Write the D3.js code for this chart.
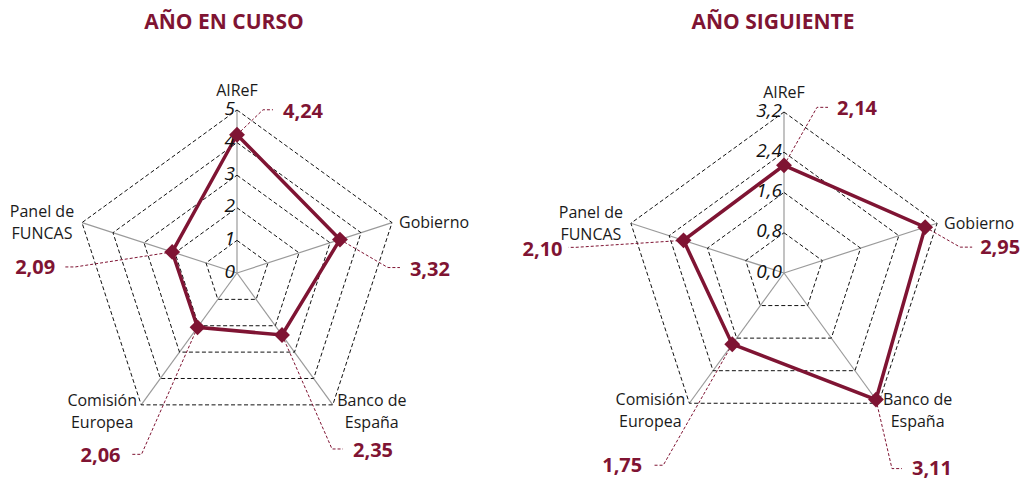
<!DOCTYPE html>
<html>
<head>
<meta charset="utf-8">
<script src="https://cdnjs.cloudflare.com/ajax/libs/d3/7.8.5/d3.min.js"></script>
<style>
    body { margin: 0; background: #fff; }
    svg { display: block; }
</style>
</head>
<body>
<div id="chart"></div>
<script>
/*global d3: false */
(function(window, d3){
    "use strict";
    //====================================
    //data
    var categories = ["AIReF", "Gobierno", "Banco de España", "Comisión Europea", "Panel de FUNCAS"];
    var categoryLines = [["AIReF"], ["Gobierno"], ["Banco de", "España"], ["Comisión", "Europea"], ["Panel de", "FUNCAS"]];
    var cursoValues = [4.24, 3.32, 2.35, 2.06, 2.09];
    var siguienteValues = [2.14, 2.95, 3.11, 1.75, 2.10];
    var cursoTicks = [0, 1, 2, 3, 4, 5];
    var siguienteTicks = [0, 0.8, 1.6, 2.4, 3.2];
    var cursoTickLabels = ["0", "1", "2", "3", "4", "5"];
    var siguienteTickLabels = ["0,0", "0,8", "1,6", "2,4", "3,2"];
    var titles = ["AÑO EN CURSO", "AÑO SIGUIENTE"];

    //====================================
    //layout
    var width = 1026, height = 481;
    var maroon = "#7f1433";
    var font = "'Open Sans', 'Noto Sans', sans-serif";

    //leader line offsets relative to each marker: elbow, end, label anchor
    var cursoLeaders = [
        {elbow: [26, -25], end: [36, -25], text: [46, -24], anchor: "start"},
        {elbow: [48, 28], end: [60, 28], text: [70, 29], anchor: "start"},
        {elbow: [50, 114], end: [61, 114], text: [71, 115], anchor: "start"},
        {elbow: [-56, 127], end: [-67, 127], text: [-77, 128], anchor: "end"},
        {elbow: [-97, 15], end: [-107, 15], text: [-117, 15], anchor: "end"}
    ];
    var siguienteLeaders = [
        {elbow: [33, -58], end: [44, -58], text: [53, -57], anchor: "start"},
        {elbow: [35, 20], end: [47, 20], text: [55, 20], anchor: "start"},
        {elbow: [16, 69], end: [26, 69], text: [36, 68], anchor: "start"},
        {elbow: [-69, 121], end: [-79, 121], text: [-90, 121], anchor: "end"},
        {elbow: [-108, 7], end: [-115, 7], text: [-121, 9], anchor: "end"}
    ];

    //category label offsets from each outer vertex
    var labelPos = [
        {dx: 0, dy: -20, anchor: "middle"},
        {dx: 7, dy: 0, anchor: "start"},
        {dx: 39, dy: -4, anchor: "middle"},
        {dx: -39, dy: -4, anchor: "middle"},
        {dx: -40, dy: -11, anchor: "middle"}
    ];

    var svg = d3.select("#chart").append("svg")
        .attr("width", width)
        .attr("height", height);

    //comma decimal format
    var fmt = function(v){ return d3.format(".2f")(v).replace(".", ","); };

    //====================================
    //one radar panel
    function drawRadar(cfg){
        var g = svg.append("g")
            .attr("transform", "translate(" + cfg.cx + "," + cfg.cy + ")");
        var n = categories.length;
        var r = d3.scaleLinear()
            .domain([0, cfg.max])
            .range([0, cfg.radius]);
        var angle = d3.scaleLinear()
            .domain([0, n])
            .range([0, 2 * Math.PI]);
        var point = function(i, v){
            var a = angle(i);
            return [r(v) * Math.sin(a), -r(v) * Math.cos(a)];
        };

        //title
        svg.append("text")
            .attr("x", cfg.titleX)
            .attr("y", 22)
            .attr("dy", "0.35em")
            .attr("text-anchor", "middle")
            .style("font-family", font)
            .style("font-weight", "bold")
            .style("font-size", "21px")
            .style("fill", maroon)
            .text(cfg.title);

        //spokes
        g.selectAll(".spoke")
            .data(categories)
            .enter().append("line")
            .attr("class", "spoke")
            .attr("x1", 0).attr("y1", 0)
            .attr("x2", function(d, i){ return point(i, cfg.max)[0]; })
            .attr("y2", function(d, i){ return point(i, cfg.max)[1]; })
            .style("stroke", "#9a9a9a")
            .style("stroke-width", 1.2);

        //grid pentagons
        var ring = d3.lineRadial()
            .angle(function(d, i){ return angle(i); })
            .radius(function(d){ return r(d); })
            .curve(d3.curveLinearClosed);
        g.selectAll(".grid")
            .data(cfg.ticks.filter(function(t){ return t > 0; }))
            .enter().append("path")
            .attr("class", "grid")
            .attr("d", function(t){ return ring(categories.map(function(){ return t; })); })
            .style("fill", "none")
            .style("stroke", "#111")
            .style("stroke-width", 1)
            .style("stroke-dasharray", "4,2.5");

        //series polygon
        g.append("path")
            .attr("d", ring(cfg.values))
            .style("fill", "none")
            .style("stroke", maroon)
            .style("stroke-width", 3.5)
            .style("stroke-linejoin", "miter");

        //tick labels on the top axis
        g.selectAll(".tick")
            .data(cfg.ticks)
            .enter().append("text")
            .attr("class", "tick")
            .attr("x", -2)
            .attr("y", function(t){ return -r(t) - 2; })
            .attr("dy", "0.35em")
            .attr("text-anchor", "end")
            .style("font-family", font)
            .style("font-style", "italic")
            .style("font-size", "19px")
            .style("fill", "#111")
            .text(function(t, i){ return cfg.tickLabels[i]; });

        //category labels
        categoryLines.forEach(function(lines, i){
            var p = point(i, cfg.max);
            var lp = labelPos[i];
            var t = g.append("text")
                .attr("text-anchor", lp.anchor)
                .style("font-family", font)
                .style("font-size", "16px")
                .style("fill", "#1a1a1a");
            lines.forEach(function(line, k){
                t.append("tspan")
                    .attr("x", p[0] + lp.dx)
                    .attr("y", p[1] + lp.dy + k * 22)
                    .attr("dy", "0.35em")
                    .text(line);
            });
        });

        //leader lines and value labels
        cfg.values.forEach(function(v, i){
            var p = point(i, v);
            var ld = cfg.leaders[i];
            g.append("polyline")
                .attr("points", [p, [p[0] + ld.elbow[0], p[1] + ld.elbow[1]], [p[0] + ld.end[0], p[1] + ld.end[1]]].join(" "))
                .style("fill", "none")
                .style("stroke", maroon)
                .style("stroke-width", 1)
                .style("stroke-dasharray", "3,2");
            g.append("text")
                .attr("x", p[0] + ld.text[0])
                .attr("y", p[1] + ld.text[1])
                .attr("dy", "0.35em")
                .attr("text-anchor", ld.anchor)
                .style("font-family", font)
                .style("font-weight", "bold")
                .style("font-size", "20px")
                .style("fill", maroon)
                .text(fmt(v));
        });

        //diamond markers
        g.selectAll(".marker")
            .data(cfg.values)
            .enter().append("path")
            .attr("class", "marker")
            .attr("d", d3.symbol().type(d3.symbolDiamond2).size(160))
            .attr("transform", function(v, i){
                var p = point(i, v);
                return "translate(" + p[0] + "," + p[1] + ")";
            })
            .style("fill", maroon);
    }

    drawRadar({
        cx: 237, cy: 273, radius: 163, max: 5,
        ticks: cursoTicks, tickLabels: cursoTickLabels,
        values: cursoValues, leaders: cursoLeaders,
        title: titles[0], titleX: 224
    });
    drawRadar({
        cx: 784, cy: 273, radius: 161, max: 3.2,
        ticks: siguienteTicks, tickLabels: siguienteTickLabels,
        values: siguienteValues, leaders: siguienteLeaders,
        title: titles[1], titleX: 773
    });
    //====================================
})(window, d3);
</script>
</body>
</html>
